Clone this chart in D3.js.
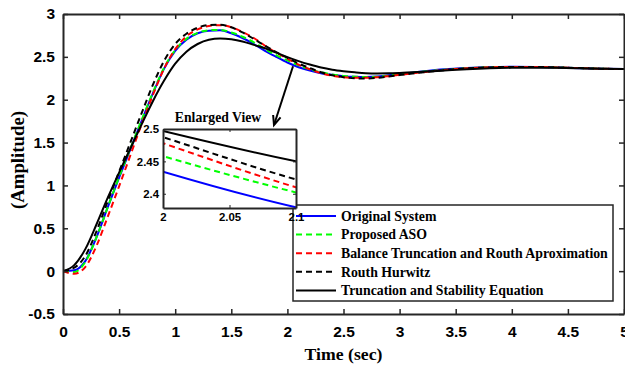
<!DOCTYPE html>
<html>
<head>
<meta charset="utf-8">
<script src="https://cdn.jsdelivr.net/npm/d3@7"></script>
<style>
  body { margin: 0; background: #fff; }
  svg { display: block; font-family: "Liberation Serif", "Times New Roman", serif; font-weight: bold; }
  .axis path, .axis line { stroke: #262626; }
  .axis text { fill: #000; }
</style>
</head>
<body>
<svg width="625" height="367"></svg>
<script>
// time grid (sec)
const times = [0, 0.1, 0.2, 0.3, 0.4, 0.5, 0.6, 0.7, 0.8, 0.9, 1.0, 1.1, 1.2, 1.3, 1.4, 1.5, 1.6, 1.7, 1.8, 1.9,
  2.0, 2.1, 2.2, 2.3, 2.4, 2.5, 2.6, 2.7, 2.8, 2.9, 3.0, 3.2, 3.4, 3.6, 3.8, 4.0, 4.2, 4.4, 4.6, 4.8, 5.0]

const originalSystem = [0, 0.01, 0.12, 0.40, 0.75, 1.09, 1.42, 1.75, 2.07, 2.36, 2.57, 2.70, 2.775, 2.805, 2.81, 2.775, 2.72, 2.65, 2.57, 2.50,
  2.434, 2.379, 2.34, 2.31, 2.29, 2.275, 2.267, 2.265, 2.27, 2.285, 2.30, 2.33, 2.355, 2.37, 2.38, 2.384, 2.382, 2.376, 2.368, 2.362, 2.357]
const proposedASO = [0, -0.01, 0.11, 0.40, 0.75, 1.10, 1.43, 1.76, 2.08, 2.37, 2.58, 2.71, 2.78, 2.81, 2.815, 2.785, 2.735, 2.67, 2.59, 2.52,
  2.458, 2.402, 2.355, 2.32, 2.295, 2.278, 2.268, 2.265, 2.268, 2.28, 2.295, 2.325, 2.35, 2.368, 2.378, 2.383, 2.382, 2.377, 2.369, 2.362, 2.357]
const balanceRouth = [0, -0.03, 0.05, 0.30, 0.64, 0.99, 1.35, 1.71, 2.05, 2.36, 2.59, 2.74, 2.82, 2.86, 2.87, 2.845, 2.79, 2.72, 2.63, 2.55,
  2.478, 2.41, 2.355, 2.31, 2.28, 2.262, 2.255, 2.255, 2.262, 2.275, 2.29, 2.32, 2.348, 2.366, 2.378, 2.383, 2.382, 2.377, 2.369, 2.362, 2.357]
const routhHurwitz = [0, 0.04, 0.18, 0.47, 0.82, 1.16, 1.50, 1.84, 2.17, 2.45, 2.65, 2.77, 2.84, 2.872, 2.875, 2.845, 2.785, 2.71, 2.63, 2.555,
  2.4875, 2.422, 2.37, 2.32, 2.285, 2.262, 2.25, 2.248, 2.255, 2.27, 2.287, 2.318, 2.345, 2.365, 2.377, 2.383, 2.382, 2.377, 2.369, 2.362, 2.357]
const truncStability = [0, 0.07, 0.26, 0.55, 0.86, 1.15, 1.43, 1.71, 1.98, 2.22, 2.42, 2.56, 2.65, 2.70, 2.714, 2.705, 2.68, 2.64, 2.60, 2.55,
  2.497, 2.45, 2.41, 2.375, 2.35, 2.333, 2.32, 2.31, 2.307, 2.308, 2.312, 2.325, 2.34, 2.355, 2.366, 2.372, 2.374, 2.372, 2.367, 2.361, 2.357]

const xTicks = [0, 0.5, 1, 1.5, 2, 2.5, 3, 3.5, 4, 4.5, 5]
const yTicks = [-0.5, 0, 0.5, 1, 1.5, 2, 2.5, 3]
const insetXTicks = [2, 2.05, 2.1]
const insetYTicks = [2.4, 2.45, 2.5]

const seriesNames = ['Original System', 'Proposed ASO', 'Balance Truncation and Routh Aproximation', 'Routh Hurwitz', 'Truncation and Stability Equation']
const seriesValues = [originalSystem, proposedASO, balanceRouth, routhHurwitz, truncStability]
const seriesColors = ['#0000ff', '#00ff00', '#ff0000', '#000000', '#000000']
const seriesDash = [null, '6,4', '6,4', '6,4', null]

const series = seriesNames.map((name, i) => ({
  name,
  color: seriesColors[i],
  dash: seriesDash[i],
  points: times.map((t, j) => [t, seriesValues[i][j]])
}))

const svg = d3.select('svg')

const plotLeft = 63, plotRight = 624, plotTop = 14, plotBottom = 314

const x = d3.scaleLinear().domain([0, 5]).range([plotLeft, plotRight])
const y = d3.scaleLinear().domain([-0.5, 3]).range([plotBottom, plotTop])

const fmt = d => String(d)

svg.append('defs').append('clipPath').attr('id', 'mainclip')
  .append('rect').attr('x', plotLeft).attr('y', plotTop)
  .attr('width', plotRight - plotLeft).attr('height', plotBottom - plotTop)

// curves
const line = d3.line().x(d => x(d[0])).y(d => y(d[1])).curve(d3.curveMonotoneX)

svg.append('g').attr('clip-path', 'url(#mainclip)')
  .selectAll('path')
  .data(series)
  .enter()
  .append('path')
  .attr('d', d => line(d.points))
  .attr('fill', 'none')
  .attr('stroke', d => d.color)
  .attr('stroke-width', 2)
  .attr('stroke-dasharray', d => d.dash)

// axes (box, inward ticks)
svg.append('g').attr('class', 'axis')
  .attr('transform', `translate(0, ${plotBottom})`)
  .call(d3.axisBottom(x).tickValues(xTicks).tickFormat(fmt).tickSizeInner(-5).tickSizeOuter(0).tickPadding(12))
  .call(g => g.selectAll('text').attr('font-size', 15.5))
svg.append('g').attr('class', 'axis')
  .attr('transform', `translate(0, ${plotTop})`)
  .call(d3.axisTop(x).tickValues(xTicks).tickFormat('').tickSizeInner(-5).tickSizeOuter(0))
svg.append('g').attr('class', 'axis')
  .attr('transform', `translate(${plotLeft}, 0)`)
  .call(d3.axisLeft(y).tickValues(yTicks).tickFormat(fmt).tickSizeInner(-5).tickSizeOuter(0).tickPadding(8))
  .call(g => g.selectAll('text').attr('font-size', 15.5))
svg.append('g').attr('class', 'axis')
  .attr('transform', `translate(${plotRight}, 0)`)
  .call(d3.axisRight(y).tickValues(yTicks).tickFormat('').tickSizeInner(-5).tickSizeOuter(0))

svg.selectAll('.axis path').attr('stroke-width', 2)
svg.selectAll('.axis line').attr('stroke-width', 1.5)

svg.append('text')
  .attr('x', (plotLeft + plotRight) / 2)
  .attr('y', 360)
  .attr('text-anchor', 'middle')
  .attr('font-size', 17.7)
  .text('Time (sec)')

svg.append('text')
  .attr('transform', 'translate(24, 160) rotate(-90)')
  .attr('text-anchor', 'middle')
  .attr('font-size', 18.8)
  .text('(Amplitude)')

// legend
const legend = svg.append('g')
legend.append('rect')
  .attr('x', 293).attr('y', 205).attr('width', 320).attr('height', 96)
  .attr('fill', '#fff').attr('stroke', '#262626').attr('stroke-width', 1.5)

const rows = legend.selectAll('g.row')
  .data(series)
  .enter()
  .append('g')
  .attr('class', 'row')
  .attr('transform', (d, i) => `translate(0, ${216 + i * 18.6})`)
rows.append('line')
  .attr('x1', 296).attr('x2', 336).attr('y1', 0).attr('y2', 0)
  .attr('stroke', d => d.color).attr('stroke-width', 2)
  .attr('stroke-dasharray', d => d.dash)
rows.append('text')
  .attr('x', 341).attr('y', 4.8)
  .attr('font-size', 13.8)
  .text(d => d.name)

// inset (enlarged view)
const iLeft = 163, iRight = 296, iTop = 129, iBottom = 208
const ix = d3.scaleLinear().domain([2, 2.1]).range([iLeft, iRight])
const iy = d3.scaleLinear().domain([2.378, 2.5]).range([iBottom, iTop])

svg.select('defs').append('clipPath').attr('id', 'insetclip')
  .append('rect').attr('x', iLeft).attr('y', iTop).attr('width', iRight - iLeft).attr('height', iBottom - iTop)

const inset = svg.append('g')
inset.append('rect')
  .attr('x', iLeft).attr('y', iTop).attr('width', iRight - iLeft).attr('height', iBottom - iTop)
  .attr('fill', '#fff')

const iline = d3.line().x(d => ix(d[0])).y(d => iy(d[1])).curve(d3.curveMonotoneX)
inset.append('g').attr('clip-path', 'url(#insetclip)')
  .selectAll('path')
  .data(series)
  .enter()
  .append('path')
  .attr('d', d => iline(d.points))
  .attr('fill', 'none')
  .attr('stroke', d => d.color)
  .attr('stroke-width', 2)
  .attr('stroke-dasharray', d => d.dash)

inset.append('g').attr('class', 'axis')
  .attr('transform', `translate(0, ${iBottom})`)
  .call(d3.axisBottom(ix).tickValues(insetXTicks).tickFormat(fmt).tickSizeInner(-3).tickSizeOuter(0).tickPadding(5))
  .call(g => g.selectAll('text').attr('font-size', 11.4))
inset.append('g').attr('class', 'axis')
  .attr('transform', `translate(0, ${iTop})`)
  .call(d3.axisTop(ix).tickValues(insetXTicks).tickFormat('').tickSizeInner(-3).tickSizeOuter(0))
inset.append('g').attr('class', 'axis')
  .attr('transform', `translate(${iLeft}, 0)`)
  .call(d3.axisLeft(iy).tickValues(insetYTicks).tickFormat(fmt).tickSizeInner(-3).tickSizeOuter(0).tickPadding(4))
  .call(g => g.selectAll('text').attr('font-size', 11.4))
inset.append('g').attr('class', 'axis')
  .attr('transform', `translate(${iRight}, 0)`)
  .call(d3.axisRight(iy).tickValues(insetYTicks).tickFormat('').tickSizeInner(-3).tickSizeOuter(0))
inset.selectAll('.axis path').attr('stroke-width', 2)

inset.append('text')
  .attr('x', 218).attr('y', 122)
  .attr('text-anchor', 'middle')
  .attr('font-size', 13.7)
  .text('Enlarged View')

// arrow from curve to inset
const ax0 = x(2.05), ay0 = y(2.39)
const ax1 = 274, ay1 = 125
const ang = Math.atan2(ay1 - ay0, ax1 - ax0)
const head = 10
svg.append('line')
  .attr('x1', ax0).attr('y1', ay0).attr('x2', ax1).attr('y2', ay1)
  .attr('stroke', '#000').attr('stroke-width', 2)
svg.append('path')
  .attr('d', `M${ax1 - head * Math.cos(ang - 0.4)},${ay1 - head * Math.sin(ang - 0.4)} L${ax1},${ay1} L${ax1 - head * Math.cos(ang + 0.4)},${ay1 - head * Math.sin(ang + 0.4)}`)
  .attr('fill', 'none').attr('stroke', '#000').attr('stroke-width', 2)
</script>
</body>
</html>
